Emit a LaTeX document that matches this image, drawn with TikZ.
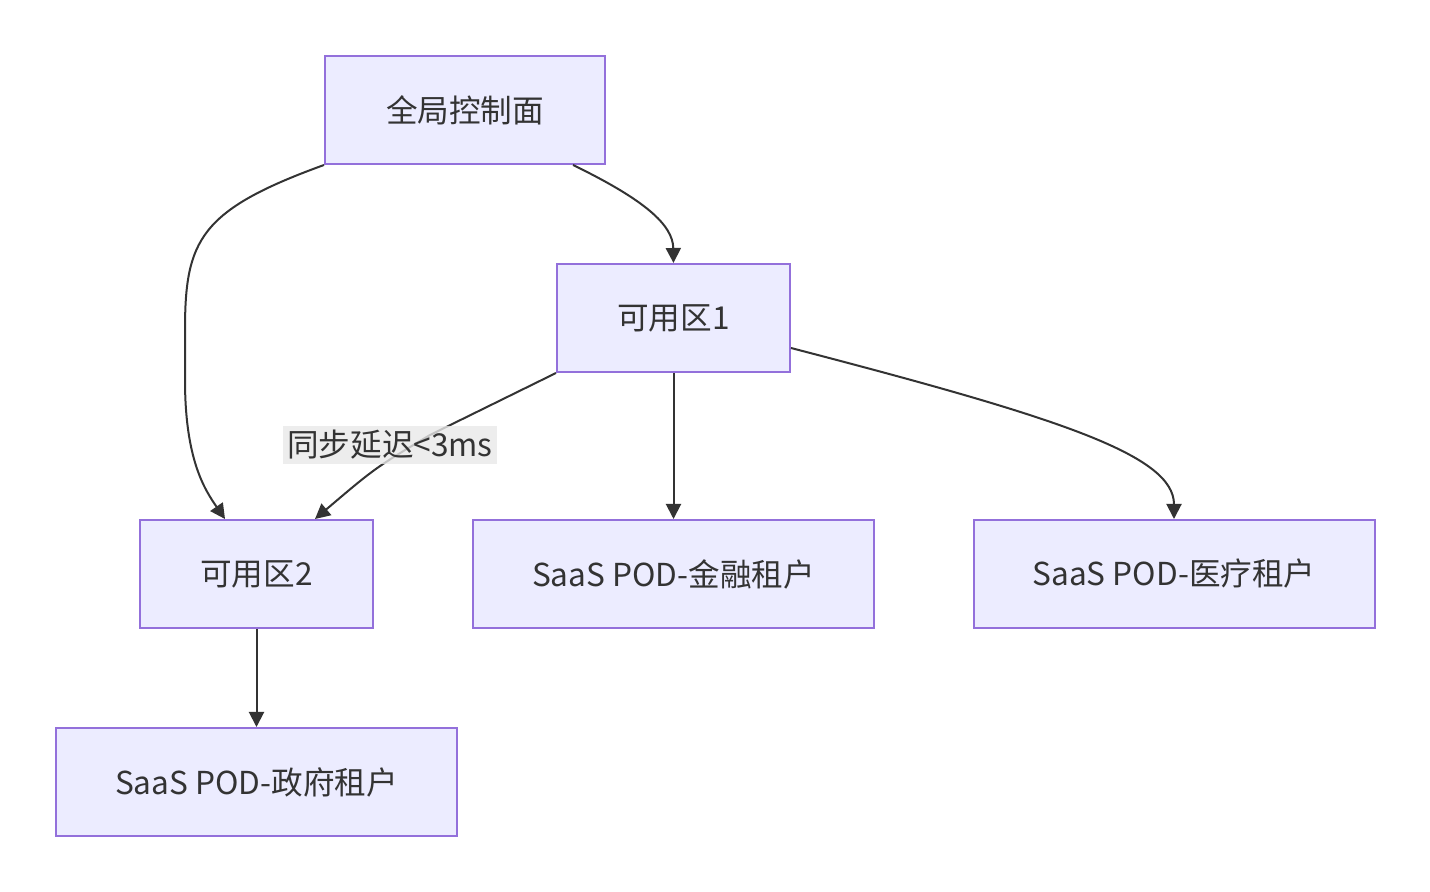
\documentclass[tikz,border=0pt]{standalone}
\usepackage{fontspec}
\setmainfont{Noto Sans CJK SC}
\usetikzlibrary{arrows.meta,calc}
\definecolor{boxfill}{HTML}{ECECFF}
\definecolor{boxline}{HTML}{9370DB}
\definecolor{edgeline}{HTML}{333333}
\definecolor{labelbg}{HTML}{E8E8E8}
\tikzset{
    podbox/.style={draw=boxline, fill=boxfill, line width=1pt, minimum height=54pt,
        inner sep=0pt, font=\fontsize{15.8}{19}\selectfont, text=edgeline},
    flow/.style={draw=edgeline, line width=1pt, -{Triangle[length=7.5pt,width=7.5pt]}},
    edgelabel/.style={fill=labelbg, fill opacity=0.8, text opacity=1, inner sep=2pt,
        font=\fontsize{15.8}{19}\selectfont, text=edgeline}
}
\begin{document}
\begin{tikzpicture}[x=0.5pt,y=-0.5pt]
    \useasboundingbox (0,0) rectangle (1430,892);
    %control plane
    \node[podbox, minimum width=140pt] (gcp) at (465,110) {全局控制面};
    %zones
    \node[podbox, minimum width=116.5pt] (az1) at (673.5,318) {可用区1};
    \node[podbox, minimum width=116.5pt] (az2) at (256.5,574) {可用区2};
    %tenants
    \node[podbox, minimum width=200.5pt] (fin) at (673.5,574) {SaaS POD-金融租户};
    \node[podbox, minimum width=200.5pt] (med) at (1174,574) {SaaS POD-医疗租户};
    \node[podbox, minimum width=200.5pt] (gov) at (256.5,782) {SaaS POD-政府租户};
    %edges
    \draw[flow] ($(gcp.south)+(108,0)$) .. controls (645,200) and (673,225) .. (az1.north);
    \draw[flow] (gcp.south west) .. controls (200,210) and (185,240) .. (185,330)
        -- (185,380) .. controls (185,460) and (205,490) .. ($(az2.north)+(-31.5,0)$);
    \draw[flow] (az1.south west) -- (430,435) .. controls (375,468) .. ($(az2.north)+(58.5,0)$);
    \node[edgelabel] (sync) at (390,445) {同步延迟<3ms};
    \draw[flow] (az1.south) -- (fin.north);
    \draw[flow] ($(az1.east)+(0,30)$) .. controls (1060,418) and (1174,455) .. (med.north);
    \draw[flow] (az2.south) -- (gov.north);
\end{tikzpicture}
\end{document}
